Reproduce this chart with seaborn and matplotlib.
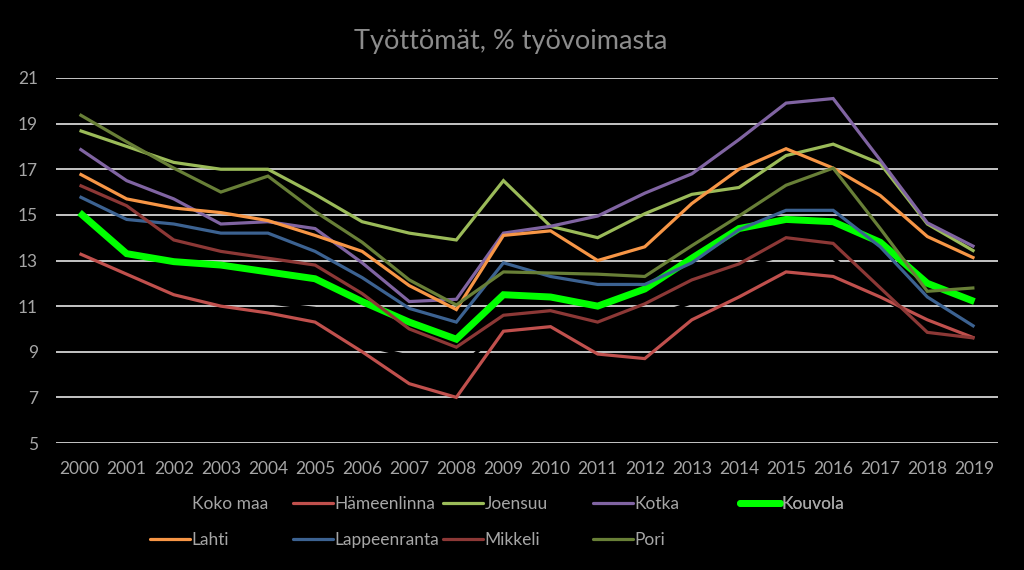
import matplotlib
matplotlib.use("Agg")
import matplotlib.pyplot as plt
import seaborn as sns
import pandas as pd
from matplotlib.lines import Line2D

years = list(range(2000, 2020))

koko_maa     = [12.6, 12.2, 11.9, 11.6, 11.15, 10.9, 9.3, 8.8, 8.2, 10.0, 10.2, 9.8, 10.45, 11.15, 12.7, 13.25, 13.1, 11.4, 10.2, 9.6]
hameenlinna  = [13.3, 12.4, 11.5, 11.0, 10.7, 10.3, 9.0, 7.6, 7.0, 9.9, 10.1, 8.9, 8.7, 10.4, 11.4, 12.5, 12.3, 11.4, 10.4, 9.6]
joensuu      = [18.7, 18.0, 17.3, 17.0, 17.0, 15.9, 14.7, 14.2, 13.9, 16.5, 14.5, 14.0, 15.05, 15.9, 16.2, 17.6, 18.1, 17.25, 14.6, 13.4]
kotka        = [17.9, 16.5, 15.7, 14.6, 14.7, 14.4, 12.9, 11.2, 11.3, 14.2, 14.5, 14.95, 15.95, 16.8, 18.3, 19.9, 20.1, 17.4, 14.65, 13.6]
kouvola      = [15.1, 13.3, 12.95, 12.8, 12.5, 12.2, 11.2, 10.3, 9.55, 11.5, 11.4, 11.0, 11.75, 13.1, 14.4, 14.8, 14.7, 13.8, 12.0, 11.2]
lahti        = [16.8, 15.7, 15.3, 15.1, 14.75, 14.1, 13.4, 11.9, 10.85, 14.1, 14.3, 13.0, 13.6, 15.5, 17.0, 17.9, 17.05, 15.85, 14.05, 13.1]
lappeenranta = [15.8, 14.8, 14.6, 14.2, 14.2, 13.4, 12.25, 10.9, 10.3, 12.9, 12.3, 11.95, 11.95, 12.9, 14.35, 15.2, 15.2, 13.6, 11.4, 10.1]
mikkeli      = [16.3, 15.4, 13.9, 13.4, 13.1, 12.8, 11.55, 10.0, 9.2, 10.6, 10.8, 10.3, 11.1, 12.15, 12.85, 14.0, 13.75, 11.8, 9.85, 9.6]
pori         = [19.4, 18.2, 17.05, 16.0, 16.7, 15.15, 13.8, 12.15, 11.05, 12.5, 12.45, 12.4, 12.3, 13.65, 14.95, 16.3, 17.05, 14.4, 11.65, 11.8]

series_names = ["Koko maa", "Hämeenlinna", "Joensuu", "Kotka", "Kouvola",
                "Lahti", "Lappeenranta", "Mikkeli", "Pori"]
series_values = [koko_maa, hameenlinna, joensuu, kotka, kouvola,
                 lahti, lappeenranta, mikkeli, pori]
colors = ["#000000", "#C0504D", "#9BBB59", "#8064A2", "#00FF00",
          "#F79646", "#3C6291", "#8C3836", "#687F37"]
widths = [2.3, 2.3, 2.3, 2.3, 5.0, 2.3, 2.3, 2.3, 2.3]

title = "Työttömät, % työvoimasta"
yticks = [5, 7, 9, 11, 13, 15, 17, 19, 21]

rows = []
for name, vals in zip(series_names, series_values):
    for y, v in zip(years, vals):
        rows.append({"Vuosi": y, "Arvo": v, "Alue": name})
df = pd.DataFrame(rows)

sns.set_theme(style="dark")
plt.rcParams["font.family"] = ["Lato", "DejaVu Sans"]

fig = plt.figure(figsize=(10.24, 5.70), dpi=100, facecolor="black")
ax = fig.add_axes([56/1024, 1-443/570, (998-56)/1024, (443-78)/570])
ax.set_facecolor("black")

for i, (name, col, lw) in enumerate(zip(series_names, colors, widths)):
    sns.lineplot(data=df[df["Alue"] == name], x="Vuosi", y="Arvo", color=col,
                 linewidth=lw, ax=ax, zorder=3 + i, legend=False,
                 solid_capstyle="butt", solid_joinstyle="miter")

ax.set_xlim(1999.5, 2019.5)
ax.set_ylim(5, 21)
ax.set_yticks(yticks)
ax.set_xticks(years)
ax.set_xticklabels([str(y) for y in years])
ax.grid(False)
for y in yticks:
    ax.axhline(y, color="#E6E6E6", linewidth=1.2, zorder=1)
for s in ax.spines.values():
    s.set_visible(False)
ax.tick_params(axis="both", length=0, colors="#A6A6A6", labelsize=12.5)
ax.tick_params(axis="y", pad=13)
ax.tick_params(axis="x", pad=13)
ax.set_xlabel("")
ax.set_ylabel("")

fig.text(511/1024, 1-42/570, title, ha="center", va="center",
         color="#8C8C8C", fontsize=19.5)

# legend: five equally spaced columns
handles = [Line2D([0], [0], color=c, linewidth=lw) for c, lw in zip(colors, widths)]
columns = [[0, 5], [1, 6], [2, 7], [3, 8], [4]]
col_x = [150, 293, 443, 593, 740]
for cx, idx in zip(col_x, columns):
    leg = ax.legend([handles[i] for i in idx], [series_names[i] for i in idx],
                    loc="upper left", bbox_to_anchor=(cx/1024, 1-496/570),
                    bbox_transform=fig.transFigure, frameon=False,
                    fontsize=12.5, handlelength=2.3,
                    handletextpad=0.1, borderpad=0, borderaxespad=0,
                    labelspacing=1.15)
    for t in leg.get_texts():
        t.set_color("#A6A6A6")
    ax.add_artist(leg)

fig.savefig("out.png", dpi=100, facecolor="black")
